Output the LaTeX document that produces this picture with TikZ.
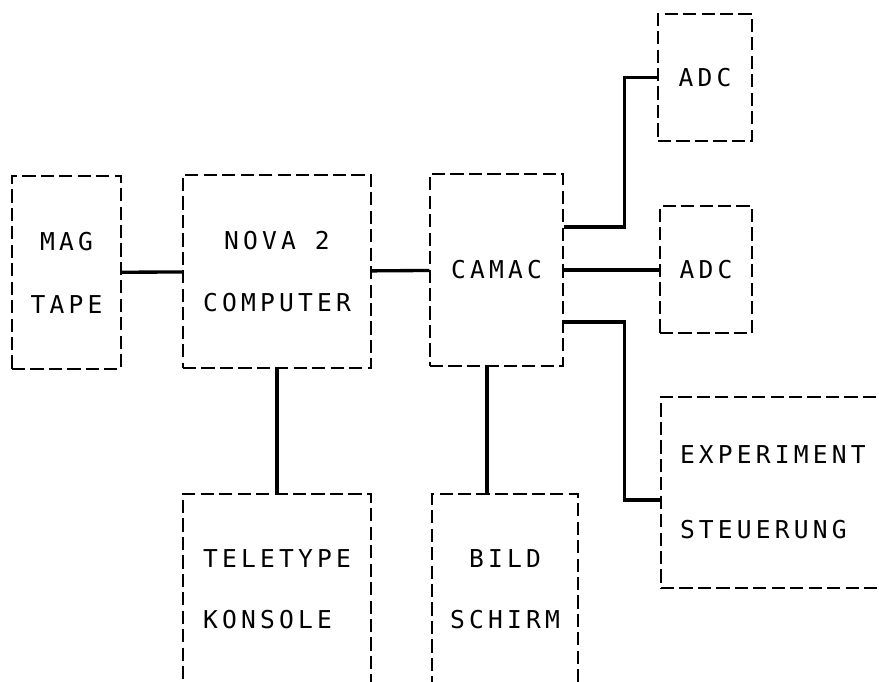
\documentclass[tikz,border=0pt]{standalone}
\usepackage{fontspec}
\newfontfamily\dotfont[LetterSpace=17]{DejaVu Sans Mono}
\usetikzlibrary{positioning,calc}

\begin{document}
\begin{tikzpicture}[x=0.02cm, y=-0.02cm,
    box/.style={draw, line width=0.8pt, dash pattern=on 7.5pt off 3pt, inner sep=0pt,
                font=\dotfont\fontsize{14}{17}\selectfont},
    wire/.style={line width=1.9pt}]
    \clip (0,0) rectangle (879,681);

    % Left side
    \node[box, minimum width=2.18cm, minimum height=3.86cm, align=center] (tape) at (66.5,272.5) {MAG\\[18.7pt]TAPE};
    \node[box, minimum width=3.76cm, minimum height=3.86cm, align=center] (nova) at (277,271.5) {NOVA 2\\[18.7pt]COMPUTER};
    \node[box, minimum width=3.76cm, minimum height=3.8cm, align=left] (tty) at (277,589) {TELETYPE\\[17.7pt]KONSOLE};

    % Crate
    \node[box, minimum width=2.66cm, minimum height=3.84cm] (camac) at (496.5,270) {CAMAC};
    \node[box, minimum width=2.92cm, minimum height=3.8cm, align=center] (bild) at (505,589) {BILD\\[17.7pt]SCHIRM};

    % Right side
    \node[box, minimum width=1.88cm, minimum height=2.54cm] (adcA) at (705,77.5) {ADC};
    \node[box, minimum width=1.84cm, minimum height=2.54cm] (adcB) at (706,269.5) {ADC};
    \node[box, text width=5.2cm, inner xsep=0.38cm, minimum height=3.82cm, align=left] (exp) at (810,492.5) {EXPERIMENT\\[25.5pt]STEUERUNG};

    % Connections
    \draw[wire] (tape) -- (nova);
    \draw[wire] (nova) -- (camac);
    \draw[wire] (nova.south) -- (tty.north);
    \draw[wire] ([xshift=-0.19cm]camac.south) -- ([xshift=-0.19cm]camac.south |- bild.north);
    \draw[wire] ([yshift=0.86cm]camac.east) -- ++(61,0) |- (adcA.west);
    \draw[wire] (camac.east) -- (camac.east -| adcB.west);
    \draw[wire] ([yshift=-1.04cm]camac.east) -- ++(61,0) |- ([yshift=-0.15cm]exp.west);
\end{tikzpicture}
\end{document}
